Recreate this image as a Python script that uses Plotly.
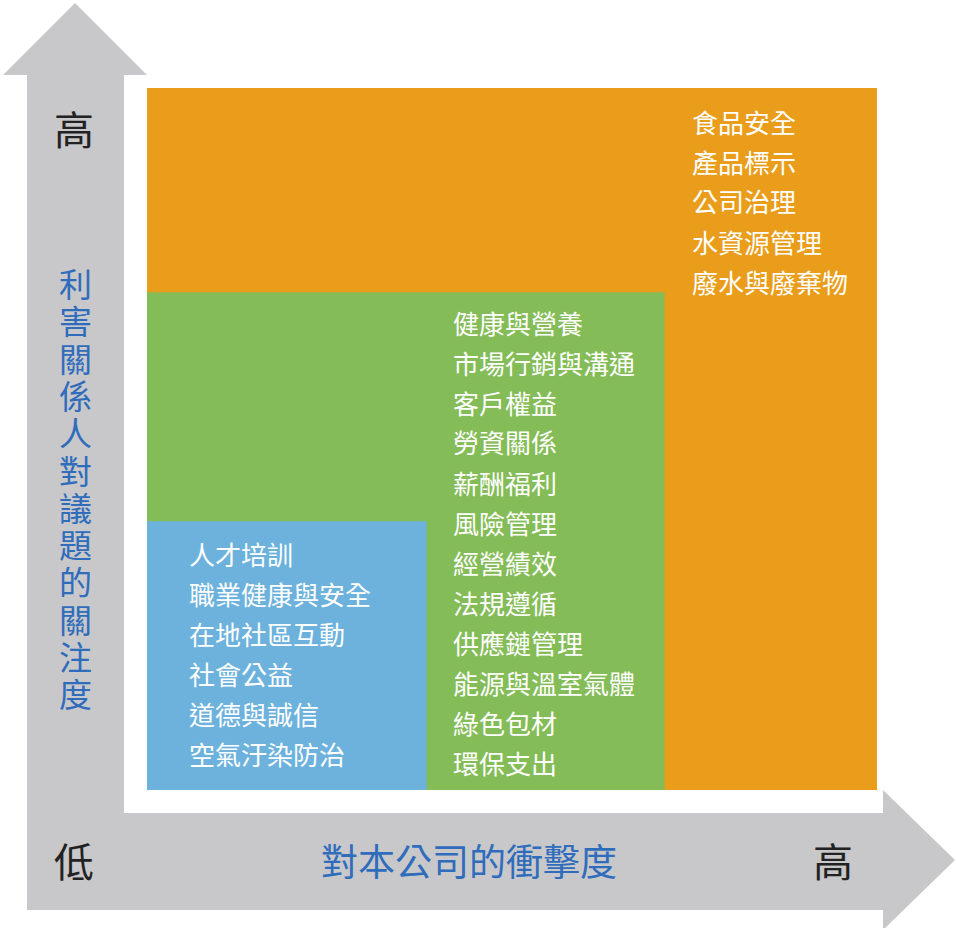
import plotly.graph_objects as go

# ---- data ----
tier_names = ["低", "中", "高"]
tier_upper = [0.383, 0.709, 1.0]          # upper bound of each tier on both axes (0..1)
low_issues = ["人才培訓", "職業健康與安全", "在地社區互動", "社會公益", "道德與誠信", "空氣汙染防治"]
mid_issues = ["健康與營養", "市場行銷與溝通", "客戶權益", "勞資關係", "薪酬福利", "風險管理",
              "經營績效", "法規遵循", "供應鏈管理", "能源與溫室氣體", "綠色包材", "環保支出"]
high_issues = ["食品安全", "產品標示", "公司治理", "水資源管理", "廢水與廢棄物"]
x_title = "對本公司的衝擊度"
y_title = "利害關係人對議題的關注度"
axis_low, axis_high = "低", "高"

# ---- styling ----
W, H = 956, 928
FONT = "Noto Sans CJK TC, Noto Sans CJK SC, sans-serif"
tier_colors = ["#6CB2DD", "#84BC57", "#E99D1A"]
grey = "#C8C8CA"
title_blue = "#2F6CBC"

# pixel geometry of the matrix area
X0, X1 = 147, 877     # left/right pixel of value 0 / 1
Y0, Y1 = 790, 88      # bottom/top pixel of value 0 / 1
sx = (X1 - X0)
sy = (Y0 - Y1)
xr = [(0 - X0) / sx, (W - X0) / sx]
yr = [(Y0 - H) / sy, (Y0 - 0) / sy]

def px(x):
    return x / W

def py(y):
    return 1 - y / H

fig = go.Figure()

shapes = []
# arrows (L-shaped band with two heads)
pts = [(27, 910), (27, 75), (3, 75), (75, 3), (147, 75), (124, 75), (124, 813),
       (883, 813), (883, 790), (955, 860), (883, 930), (883, 910)]
path = "M " + " L ".join(f"{px(a):.5f},{py(b):.5f}" for a, b in pts) + " Z"
shapes.append(dict(type="path", path=path, xref="paper", yref="paper",
                   fillcolor=grey, line=dict(width=0), layer="below"))

# tier boxes, drawn largest first
for i in reversed(range(len(tier_names))):
    shapes.append(dict(type="rect", xref="x", yref="y", x0=0, y0=0,
                       x1=tier_upper[i], y1=tier_upper[i],
                       fillcolor=tier_colors[i], line=dict(width=0), layer="below"))

ann = []
def add_text(t, x, y, size, color, xanchor="left"):
    ann.append(dict(text=t, x=px(x), y=py(y), xref="paper", yref="paper",
                    showarrow=False, xanchor=xanchor, yanchor="middle",
                    font=dict(family=FONT, size=size, color=color)))

LINE = 40
for items, x, y in [(low_issues, 187, 553), (mid_issues, 451, 322), (high_issues, 690, 121)]:
    for k, t in enumerate(items):
        add_text(t, x, y + k * LINE, 26, "white")

add_text(axis_high, 74, 128, 40, "#222222", "center")
add_text(axis_low, 74, 860, 40, "#222222", "center")
add_text(axis_high, 833, 860, 40, "#222222", "center")
add_text(x_title, 469, 860, 37, title_blue, "center")
step = 37.3
for k, ch in enumerate(y_title):
    add_text(ch, 75, 283 + k * step, 33, title_blue, "center")

fig.add_trace(go.Scatter(x=[0, 1], y=[0, 1], mode="markers",
                         marker=dict(opacity=0), hoverinfo="skip", showlegend=False))

fig.update_layout(
    width=W, height=H, margin=dict(l=0, r=0, t=0, b=0),
    paper_bgcolor="white", plot_bgcolor="white",
    xaxis=dict(range=xr, visible=False, fixedrange=True),
    yaxis=dict(range=yr, visible=False, fixedrange=True),
    shapes=shapes, annotations=ann, showlegend=False,
)
fig.write_html("out.html", config={"displayModeBar": False},
               post_script="document.body.style.margin='0px';document.body.style.overflow='hidden';")
